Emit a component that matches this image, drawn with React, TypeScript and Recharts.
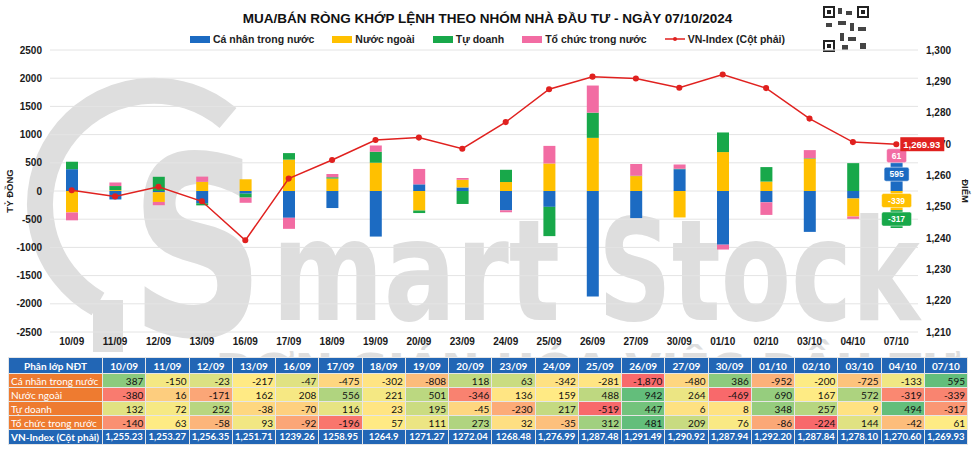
import React from 'react';
import { ComposedChart, Bar, Line, XAxis, YAxis, CartesianGrid, Legend, LabelList } from 'recharts';

const dates = ['10/09', '11/09', '12/09', '13/09', '16/09', '17/09', '18/09', '19/09', '20/09', '23/09', '24/09', '25/09', '26/09', '27/09', '30/09', '01/10', '02/10', '03/10', '04/10', '07/10'];

const caNhan = [387, -150, -23, -217, -47, -475, -302, -808, 118, 63, -342, -281, -1870, -480, 386, -952, -200, -725, -133, 595];
const nuocNgoai = [-380, 16, -171, 162, 208, 556, 221, 501, -346, 136, 159, 488, 942, 264, -469, 690, 167, 572, -319, -339];
const tuDoanh = [132, 72, 252, -38, -70, 116, 23, 195, -45, -230, 217, -519, 447, 6, 8, 348, 257, 9, 494, -317];
const toChuc = [-140, 63, -58, 93, -92, -196, 57, 111, 273, 32, -35, 312, 481, 209, 76, -86, -224, 144, -42, 61];
const vnIndex = [1255.23, 1253.27, 1256.35, 1251.71, 1239.26, 1258.95, 1264.9, 1271.27, 1272.04, 1268.48, 1276.99, 1287.48, 1291.49, 1290.92, 1287.94, 1292.2, 1287.84, 1278.1, 1270.6, 1269.93];
// as printed in the table
const vnIndexText = ['1,255.23', '1,253.27', '1,256.35', '1,251.71', '1239.26', '1258.95', '1264.9', '1271.27', '1272.04', '1268.48', '1,276.99', '1,287.48', '1,291.49', '1,290.92', '1,287.94', '1,292.20', '1,287.84', '1,278.10', '1,270.60', '1,269.93'];

const leftTicks = [-2500, -2000, -1500, -1000, -500, 0, 500, 1000, 1500, 2000, 2500];
const rightTicks = [1210, 1220, 1230, 1240, 1250, 1260, 1270, 1280, 1290, 1300];

const SERIES = [
    { key: 'caNhan', name: 'Cá nhân trong nước', color: '#1C6BC2', values: caNhan },
    { key: 'nuocNgoai', name: 'Nước ngoài', color: '#FFC000', values: nuocNgoai },
    { key: 'tuDoanh', name: 'Tự doanh', color: '#18A84A', values: tuDoanh },
    { key: 'toChuc', name: 'Tổ chức trong nước', color: '#F26CA3', values: toChuc },
];
const LINE_NAME = 'VN-Index (Cột phải)';
const LEGEND_ORDER = [...SERIES.map((s) => s.name), LINE_NAME];
const LINE_COLOR = '#E0211F';
const HEADER_BLUE = '#2266B5';
const LABEL_ORANGE = '#EE7B30';
const FONT = '"Liberation Sans", Arial, sans-serif';
const TABLE_FONT = 'Lato, "Liberation Sans", sans-serif';

const data = dates.map((d, i) => ({
    date: d,
    caNhan: caNhan[i],
    nuocNgoai: nuocNgoai[i],
    tuDoanh: tuDoanh[i],
    toChuc: toChuc[i],
    vnIndex: vnIndex[i],
}));

const last = dates.length - 1;
const fmt = (v: number) => v.toLocaleString('en-US');

// excel style 3-colour scale: red -> yellow (median) -> green
const mix = (a: number[], b: number[], t: number) =>
    `rgb(${a.map((c, i) => Math.round(c + (b[i] - c) * t)).join(',')})`;
const RED = [248, 105, 107];
const YELLOW = [255, 235, 132];
const GREEN = [99, 190, 123];
function scaleColor(v: number, arr: number[]) {
    const s = [...arr].sort((a, b) => a - b);
    const min = s[0];
    const max = s[s.length - 1];
    const m = (s.length - 1) / 2;
    const mid = (s[Math.floor(m)] + s[Math.ceil(m)]) / 2;
    if (v <= mid) return mix(RED, YELLOW, mid === min ? 1 : (v - min) / (mid - min));
    return mix(YELLOW, GREEN, (v - mid) / (max - mid));
}

const lastBarLabel = (color: string) => (props: any) => {
    const { index, x, y, width, height, value } = props;
    if (index !== last) return null;
    const cx = x + width / 2;
    const cy = y + height / 2;
    const txt = String(value);
    const w = txt.length * 5 + 10;
    return (
        <g>
            <rect x={cx - w / 2} y={cy - 7} width={w} height={14} rx={2} fill={color} stroke="#fff" strokeWidth={0.5} />
            <text x={cx} y={cy + 3} textAnchor="middle" fontSize={8.5} fontWeight="bold" fill="#fff" fontFamily={FONT}>{txt}</text>
        </g>
    );
};

const lineEndLabel = (props: any) => {
    const { index, x, y, value } = props;
    if (index !== last) return null;
    return (
        <g>
            <rect x={x + 4} y={y - 7} width={44} height={14} fill={LINE_COLOR} />
            <text x={x + 7} y={y + 3.5} fontSize={9.5} fontWeight="bold" fill="#fff" fontFamily={FONT}>
                {value.toLocaleString('en-US', { minimumFractionDigits: 2 })}
            </text>
        </g>
    );
};

const renderLegend = (props: any) => {
    const payload = [...(props.payload || [])].sort(
        (a: any, b: any) => LEGEND_ORDER.indexOf(a.value) - LEGEND_ORDER.indexOf(b.value)
    );
    return (
        <div style={{ display: 'flex', justifyContent: 'center', gap: 18, fontFamily: FONT, fontSize: 10.5, fontWeight: 'bold', color: '#222', height: 18, alignItems: 'center' }}>
            {payload.map((p: any) => (
                <div key={p.value} style={{ display: 'flex', alignItems: 'center', gap: 3 }}>
                    {p.type === 'line' ? (
                        <svg width={20} height={8}>
                            <line x1={0} y1={4} x2={20} y2={4} stroke={p.color} strokeWidth={1.5} />
                            <circle cx={10} cy={4} r={2} fill={p.color} />
                        </svg>
                    ) : (
                        <span style={{ display: 'inline-block', width: 20, height: 7, background: p.color }} />
                    )}
                    <span>{p.value}</span>
                </div>
            ))}
        </div>
    );
};

const Watermark = () => (
    <svg width={975} height={452} style={{ position: 'absolute', left: 0, top: 0 }}>
        <g fill="#DEDEDE" stroke="#DEDEDE" fontFamily='"DejaVu Sans", sans-serif' fontWeight="bold">
            <path d="M228 118 A114 114 0 1 0 98 304" fill="none" strokeWidth={26} />
            <line x1={108} y1={300} x2={108} y2={352} strokeWidth={30} />
            <text x={130} y={335} fontSize={250} textLength={135} lengthAdjust="spacingAndGlyphs" stroke="none">S</text>
            <text x={272} y={320} fontSize={140} textLength={288} lengthAdjust="spacingAndGlyphs" stroke="none">mart</text>
            <text x={598} y={320} fontSize={140} textLength={322} lengthAdjust="spacingAndGlyphs" stroke="none">Stock</text>
            <text x={215} y={384} fontSize={42} textLength={745} lengthAdjust="spacingAndGlyphs" stroke="none">ĐƠN GIẢN HÓA VIỆC ĐẦU TƯ</text>
        </g>
    </svg>
);

const QrMark = () => {
    const finder = (x: number, y: number) => (
        <g key={`${x}-${y}`}>
            <rect x={x} y={y} width={12} height={12} fill="#222" />
            <rect x={x + 2} y={y + 2} width={8} height={8} fill="#fff" />
            <rect x={x + 4} y={y + 4} width={4} height={4} fill="#222" />
        </g>
    );
    return (
        <svg width={48} height={48} style={{ position: 'absolute', left: 822, top: 5 }}>
            <rect width={48} height={48} fill="#fff" />
            {finder(1, 1)}
            {finder(35, 1)}
            {finder(1, 35)}
            <g fill="#444">
                <rect x={16} y={3} width={4} height={6} />
                <rect x={24} y={6} width={6} height={4} />
                <rect x={16} y={16} width={8} height={4} />
                <rect x={28} y={18} width={4} height={8} />
                <rect x={4} y={18} width={6} height={4} />
                <rect x={36} y={22} width={8} height={4} />
                <rect x={18} y={28} width={4} height={8} />
                <rect x={26} y={32} width={8} height={4} />
                <rect x={38} y={38} width={6} height={6} />
                <rect x={20} y={40} width={6} height={5} />
            </g>
        </svg>
    );
};

const cellBase: React.CSSProperties = {
    border: '1px solid #E6E6E6',
    padding: '0 2px',
    whiteSpace: 'nowrap',
    overflow: 'hidden',
    lineHeight: '12px',
};

const DataTable = () => (
    <table
        style={{
            position: 'absolute', left: 8, top: 357, width: 960, borderCollapse: 'collapse',
            tableLayout: 'fixed', fontFamily: TABLE_FONT, fontSize: 10, background: '#fff',
        }}
    >
        <colgroup>
            <col style={{ width: 94 }} />
            {dates.map((d) => <col key={d} />)}
        </colgroup>
        <thead>
            <tr style={{ height: 16 }}>
                <th style={{ ...cellBase, background: HEADER_BLUE, color: '#fff', fontWeight: 'bold' }}>Phân lớp NĐT</th>
                {dates.map((d) => (
                    <th key={d} style={{ ...cellBase, background: HEADER_BLUE, color: '#fff', fontWeight: 'bold' }}>{d}</th>
                ))}
            </tr>
        </thead>
        <tbody>
            {SERIES.map((s) => (
                <tr key={s.key} style={{ height: 14 }}>
                    <td style={{ ...cellBase, background: LABEL_ORANGE, color: '#fff', textAlign: 'left', fontSize: 10 }}>{s.name}</td>
                    {s.values.map((v, i) => (
                        <td key={i} style={{ ...cellBase, background: scaleColor(v, s.values), color: '#111', textAlign: 'right' }}>{fmt(v)}</td>
                    ))}
                </tr>
            ))}
            <tr style={{ height: 15 }}>
                <td style={{ ...cellBase, background: HEADER_BLUE, color: '#fff', fontWeight: 'bold', fontSize: 10 }}>VN-Index (Cột phải)</td>
                {vnIndexText.map((t, i) => (
                    <td key={i} style={{ ...cellBase, background: HEADER_BLUE, color: '#fff', fontWeight: 'bold', textAlign: 'center', fontSize: 9.5 }}>{t}</td>
                ))}
            </tr>
        </tbody>
    </table>
);

const App: React.FC = () => {
    const tickStyle = { fontSize: 10, fontWeight: 'bold' as const, fill: '#1A1A1A', fontFamily: FONT };
    return (
        <div style={{ position: 'relative', width: 975, height: 452, background: '#fff', overflow: 'hidden' }}>
            <style>{'body{margin:0}'}</style>
            <Watermark />
            <div style={{ position: 'absolute', top: 11, left: 0, width: 975, textAlign: 'center', fontFamily: FONT, fontSize: 13.5, fontWeight: 'bold', color: '#111' }}>
                MUA/BÁN RÒNG KHỚP LỆNH THEO NHÓM NHÀ ĐẦU TƯ - NGÀY 07/10/2024
            </div>
            <QrMark />
            <div style={{ position: 'absolute', top: 0, left: 0 }}>
                <ComposedChart
                    width={975}
                    height={352}
                    data={data}
                    stackOffset="sign"
                    margin={{ top: 32, right: 0, bottom: 0, left: 8 }}
                >
                    <CartesianGrid yAxisId="left" vertical={false} stroke="#E4E4E4" />
                    <XAxis dataKey="date" tick={tickStyle} tickLine={false} axisLine={false} height={20} tickMargin={0} interval={0} />
                    <YAxis
                        yAxisId="left"
                        domain={[-2500, 2500]}
                        ticks={leftTicks}
                        tick={tickStyle}
                        tickLine={false}
                        axisLine={false}
                        width={42}
                        label={(p: any) => {
                            const vb = p.viewBox;
                            const x = vb.x + 5;
                            const y = vb.y + vb.height / 2;
                            return (
                                <text x={x} y={y} transform={`rotate(-90 ${x} ${y})`} textAnchor="middle" fontSize={9.5} fontWeight="bold" fill="#222" fontFamily={FONT}>TỶ ĐỒNG</text>
                            );
                        }}
                    />
                    <YAxis
                        yAxisId="right"
                        orientation="right"
                        domain={[1210, 1300]}
                        ticks={rightTicks}
                        tickFormatter={(v: number) => fmt(v)}
                        tick={tickStyle}
                        tickLine={false}
                        axisLine={false}
                        width={57}
                        label={(p: any) => {
                            const vb = p.viewBox;
                            const x = vb.x + vb.width - 13;
                            const y = vb.y + vb.height / 2;
                            return (
                                <text x={x} y={y} transform={`rotate(90 ${x} ${y})`} textAnchor="middle" fontSize={9.5} fontWeight="bold" fill="#222" fontFamily={FONT}>ĐIỂM</text>
                            );
                        }}
                    />
                    <Legend verticalAlign="top" height={18} wrapperStyle={{ top: 30, left: 0, width: 975 }} content={renderLegend} />
                    {SERIES.map((s) => (
                        <Bar key={s.key} yAxisId="left" dataKey={s.key} name={s.name} stackId="a" fill={s.color} barSize={12} isAnimationActive={false}>
                            <LabelList dataKey={s.key} content={lastBarLabel(s.color)} />
                        </Bar>
                    ))}
                    <Line
                        yAxisId="right"
                        dataKey="vnIndex"
                        name={LINE_NAME}
                        stroke={LINE_COLOR}
                        strokeWidth={1.5}
                        dot={{ r: 2.3, fill: LINE_COLOR, stroke: LINE_COLOR }}
                        isAnimationActive={false}
                    >
                        <LabelList dataKey="vnIndex" content={lineEndLabel} />
                    </Line>
                </ComposedChart>
            </div>
            <DataTable />
        </div>
    );
};

export default App;
